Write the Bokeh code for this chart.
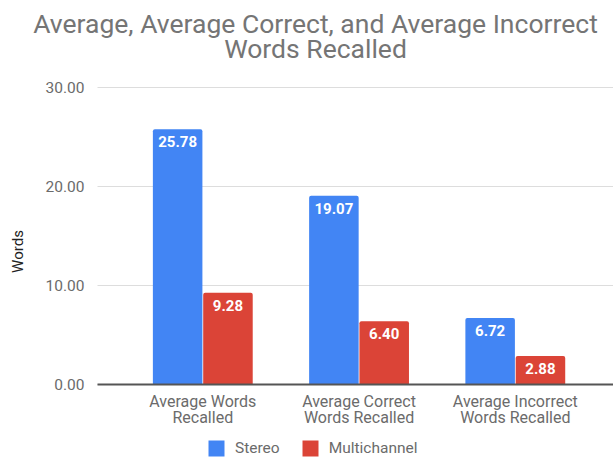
from bokeh.plotting import figure
from bokeh.models import (Range1d, FixedTicker, Legend, LegendItem,
                          ColumnDataSource, Label)
from bokeh.embed import file_html
from bokeh.resources import INLINE
from bokeh.core.properties import value

# ---- data ----
categories = ["Average Words\nRecalled", "Average Correct\nWords Recalled",
              "Average Incorrect\nWords Recalled"]
stereo = [25.78, 19.07, 6.72]
multichannel = [9.28, 6.40, 2.88]
y_ticks = [0, 10, 20, 30]

title_lines = ["Average, Average Correct, and Average Incorrect", "Words Recalled"]

BLUE = "#4285F4"
RED = "#DB4437"
FONT = "Roboto"
GRAY = "#6B6B6B"

W, H = 613, 458
# The frame fills the whole canvas; the scales put the chart area at
# x 97..613 and the value range 0..30 at y 384..87.
LEFT, TOP, BASE = 97, 87, 384
first_cat_px, cat_step_px = 202.3, 156.25
px_per_unit = (BASE - TOP) / 30
y_lo = -(H - BASE) / px_per_unit
y_hi = 30 + TOP / px_per_unit
x_lo = -first_cat_px / cat_step_px
x_hi = x_lo + W / cat_step_px
x_left = x_lo + LEFT / cat_step_px

p = figure(width=W, height=H, output_backend="svg", toolbar_location=None,
           x_range=Range1d(x_lo, x_hi), y_range=Range1d(y_lo, y_hi),
           min_border=0, title=None)
p.outline_line_color = None
p.background_fill_color = "white"
p.border_fill_color = "white"

# horizontal gridlines across the chart area only
p.segment(x0=[x_left] * len(y_ticks), x1=[x_hi] * len(y_ticks),
          y0=y_ticks, y1=y_ticks, line_color="#DDDDDD", line_width=1)

xs = list(range(len(categories)))
off = 0.161
bw = 0.317
src_s = ColumnDataSource(dict(x=[v - off for v in xs], top=stereo,
                              lbl=[f"{v:.2f}" for v in stereo]))
src_m = ColumnDataSource(dict(x=[v + off for v in xs], top=multichannel,
                              lbl=[f"{v:.2f}" for v in multichannel]))

r_s = p.vbar(x="x", top="top", bottom=0, width=bw, source=src_s,
             fill_color=BLUE, line_color=None, border_radius=(2, 2, 0, 0))
r_m = p.vbar(x="x", top="top", bottom=0, width=bw, source=src_m,
             fill_color=RED, line_color=None, border_radius=(2, 2, 0, 0))

for src in (src_s, src_m):
    p.text(x="x", y="top", text="lbl", source=src, text_color="white",
           text_font=value(FONT), text_font_size="15px", text_font_style="bold",
           text_align="center", text_baseline="top", y_offset=7)

# category axis sits on the zero line
p.xaxis.fixed_location = 0
p.xaxis.bounds = (x_left, x_hi)
p.xaxis.ticker = FixedTicker(ticks=xs)
p.xaxis.major_label_overrides = {i: c for i, c in enumerate(categories)}
p.xaxis.major_label_text_font = FONT
p.xaxis.major_label_text_font_size = "16px"
p.xaxis.major_label_text_color = GRAY
p.xaxis.major_label_text_line_height = 0.85
p.xaxis.major_label_standoff = 1
p.xaxis.major_tick_line_color = None
p.xaxis.minor_tick_line_color = None
p.xaxis.axis_line_color = "#555555"
p.xaxis.axis_line_width = 2

# value axis at the left edge of the chart area
p.yaxis.fixed_location = x_left
p.yaxis.ticker = FixedTicker(ticks=y_ticks)
p.yaxis.bounds = (-3.1, 30)
p.yaxis.major_label_overrides = {t: f"{t:.2f}" for t in y_ticks}
p.yaxis.major_label_text_font = FONT
p.yaxis.major_label_text_font_size = "15.5px"
p.yaxis.major_label_text_color = GRAY
p.yaxis.major_label_standoff = 7
p.yaxis.major_tick_line_color = None
p.yaxis.minor_tick_line_color = None
p.yaxis.axis_line_color = None
p.yaxis.axis_label = "Words"
p.yaxis.axis_label_text_font = FONT
p.yaxis.axis_label_text_font_size = "15px"
p.yaxis.axis_label_text_font_style = "normal"
p.yaxis.axis_label_text_color = "#222222"
p.yaxis.axis_label_standoff = 16

p.xgrid.grid_line_color = None
p.ygrid.grid_line_color = None

# two-line title
for i, t in enumerate(title_lines):
    p.add_layout(Label(x=315, y=H - (23 + 25 * i), x_units="screen",
                       y_units="screen", text=t, text_align="center",
                       text_baseline="alphabetic", text_font=FONT,
                       text_font_size="26.5px", text_color="#757575"))

legend = Legend(items=[LegendItem(label="Stereo", renderers=[r_s]),
                       LegendItem(label="Multichannel", renderers=[r_m])],
                orientation="horizontal", location=(206, 0),
                glyph_width=20, glyph_height=20, label_standoff=9, spacing=20,
                padding=0, margin=0, border_line_color=None,
                background_fill_alpha=0, label_text_font=FONT,
                label_text_font_size="15.5px", label_text_color=GRAY)
p.add_layout(legend, "center")

open("out.html", "w").write(file_html(p, INLINE))
